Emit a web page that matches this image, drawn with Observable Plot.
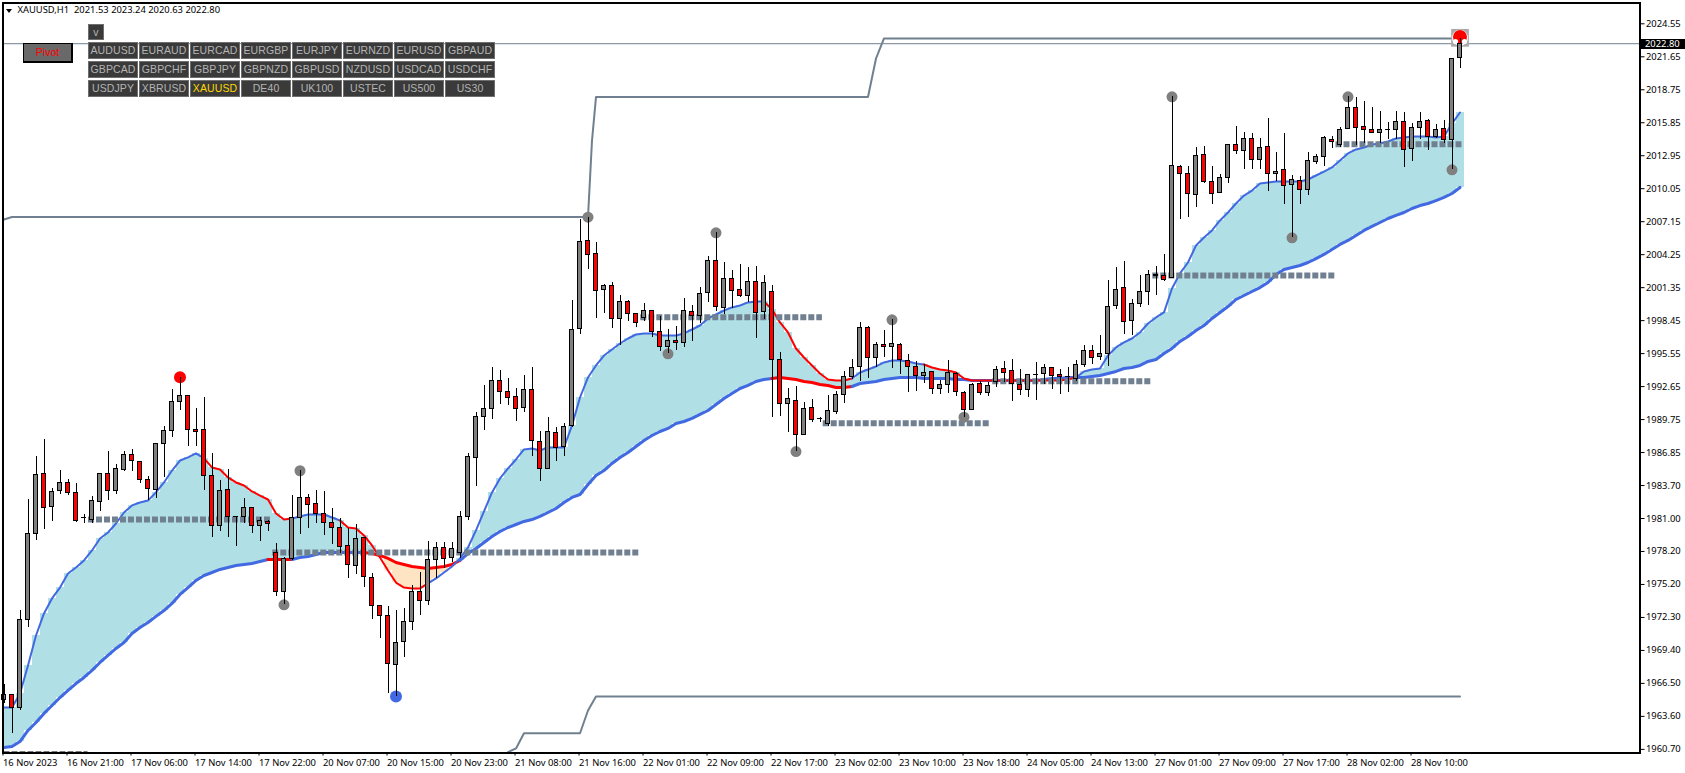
<!DOCTYPE html>
<html><head><meta charset="utf-8">
<script src="https://cdn.jsdelivr.net/npm/d3@7"></script>
<script src="https://cdn.jsdelivr.net/npm/@observablehq/plot@0.6"></script>
<style>
html,body{margin:0;padding:0;background:#fff;overflow:hidden}
#wrap{position:relative;width:1685px;height:773px}
#wrap svg{display:block;max-width:none}
.hdr{position:absolute;left:17.5px;top:3px;font:9.4px "Noto Sans",sans-serif;color:#000;white-space:pre;line-height:14px}
.tri{position:absolute;left:6px;top:9px;width:0;height:0;border-left:3.5px solid transparent;border-right:3.5px solid transparent;border-top:4px solid #000}
.btn{position:absolute;box-sizing:border-box;width:50px;height:17px;background:#3a3a3a;border:1px solid #6e6e6e;color:#b4b4b4;font:10.5px "Liberation Sans",sans-serif;text-align:center;line-height:15px;letter-spacing:.1px}
.pivot{position:absolute;box-sizing:border-box;left:23px;top:43px;width:50px;height:20px;background:#696969;border:1px solid #000;border-bottom-width:2px;border-right-width:2px;color:#ff0000;font:10.5px "Liberation Sans",sans-serif;text-align:center;line-height:17px}
.last{position:absolute;left:1641px;top:39px;width:44px;height:10px;background:#000;color:#fff;font:9.4px/10px "Noto Sans",sans-serif;text-align:left;padding-left:4px;box-sizing:border-box}
</style></head><body><div id="wrap"></div>
<script>
const opens=[1965.11,1965.55,1964.37,1972.14,1979.71,1984.98,1982.08,1983.49,1984.19,1983.31,
1981.09,1980.94,1982.52,1984.98,1983.49,1985.33,1986.65,1986.04,1984.46,1983.58,
1987.62,1988.76,1991.31,1991.84,1988.85,1988.85,1984.81,1980.41,1983.58,1981.17,
1981.20,1981.99,1980.41,1980.76,1978.04,1974.61,1977.51,1981.11,1982.87,1982.34,
1981.47,1980.67,1980.23,1978.65,1976.89,1979.35,1975.84,1973.38,1972.50,1968.19,
1970.21,1971.97,1974.61,1973.82,1977.42,1978.50,1977.62,1978.06,1981.17,1986.35,
1989.96,1990.66,1993.16,1992.19,1991.75,1990.79,1992.37,1987.80,1985.42,1988.59,
1987.36,1989.20,1997.73,2005.47,2004.33,2001.16,2001.51,1998.61,2000.11,1999.05,
1998.70,1999.32,1997.47,1996.15,1996.68,1996.50,1999.23,1998.88,2000.90,2003.71,
1999.58,2002.13,2001.16,2000.63,2001.87,1999.23,2000.99,1995.01,1991.14,1991.40,
1988.41,1990.79,1989.78,1989.38,1990.43,1991.93,1993.51,1994.36,1997.82,1995.18,
1996.33,1996.15,1996.33,1994.92,1994.39,1993.56,1993.95,1992.46,1992.81,1993.78,
1992.11,1990.61,1992.90,1992.11,1993.07,1994.22,1994.04,1992.81,1992.37,1993.69,
1993.78,1994.30,1993.69,1993.51,1993.34,1994.57,1995.80,1995.27,1995.53,1999.76,
2001.34,1998.44,1999.93,2000.99,2002.42,2002.36,2002.22,2011.98,2011.36,2009.52,
2013.03,2010.66,2009.69,2011.01,2013.91,2013.38,2014.44,2012.59,2013.74,2011.36,
2011.71,2010.39,2010.75,2009.95,2012.42,2012.86,2014.35,2013.91,2015.32,2017.17,
2015.49,2015.23,2014.97,2015.23,2015.23,2015.93,2013.56,2015.41,2016.02,2014.62,
2015.32,2014.35,2021.53];
const closes=[1965.55,1964.37,1972.14,1979.71,1984.89,1981.96,1983.40,1984.19,1983.31,1980.81,
1981.11,1982.61,1984.98,1983.49,1985.42,1986.65,1986.13,1984.46,1983.66,1987.62,
1988.76,1991.31,1991.84,1988.85,1988.68,1984.81,1980.41,1983.49,1981.20,1981.14,
1981.99,1980.41,1980.85,1980.59,1974.61,1977.51,1981.11,1982.87,1982.26,1981.47,
1980.67,1980.23,1978.56,1976.98,1979.27,1975.93,1973.38,1972.50,1968.28,1970.12,
1971.97,1974.61,1973.82,1977.42,1978.48,1977.53,1978.33,1981.20,1986.50,1989.96,
1990.70,1993.16,1992.19,1991.67,1990.70,1992.37,1987.88,1985.42,1988.68,1987.27,
1989.12,1997.64,2005.38,2004.24,2001.07,2001.51,1998.61,2000.11,1999.05,1998.26,
1999.32,1997.47,1996.15,1996.68,1996.50,1999.32,1998.88,2000.81,2003.71,1999.67,
2002.13,2001.07,2000.63,2001.87,1999.14,2001.78,1995.01,1991.14,1991.58,1988.41,
1990.70,1989.73,1989.76,1990.52,1991.93,1993.51,1994.30,1997.82,1995.18,1996.33,
1996.15,1996.41,1995.01,1994.39,1993.56,1993.86,1992.46,1992.81,1993.86,1992.19,
1990.61,1992.81,1992.11,1992.72,1994.13,1993.86,1992.90,1992.37,1993.69,1993.65,
1994.30,1993.60,1993.51,1993.45,1994.57,1995.80,1995.18,1995.53,1999.67,2001.16,
1998.35,1999.93,2000.99,2002.48,2002.36,2002.04,2012.06,2011.36,2009.60,2012.94,
2010.66,2009.60,2011.01,2013.91,2013.38,2014.44,2012.59,2013.65,2011.36,2011.54,
2010.31,2010.83,2009.95,2012.50,2012.86,2014.53,2014.18,2015.23,2017.17,2015.41,
2015.23,2014.97,2015.23,2015.20,2015.93,2013.47,2015.41,2015.93,2014.62,2015.23,
2014.35,2021.47,2022.80];
const highs=[1966.46,1965.58,1972.96,1982.70,1986.50,1987.97,1983.66,1985.27,1984.46,1984.10,
1981.38,1982.99,1985.01,1986.94,1985.77,1986.94,1987.12,1986.04,1984.72,1987.62,
1989.12,1992.40,1993.48,1991.84,1990.72,1991.67,1986.74,1984.39,1985.36,1981.17,
1982.78,1981.99,1981.11,1980.85,1978.85,1977.65,1983.05,1985.25,1983.14,1983.49,
1983.40,1981.91,1981.03,1980.15,1980.50,1979.41,1976.19,1973.38,1973.29,1972.94,
1973.11,1975.13,1976.28,1979.00,1978.92,1978.94,1978.94,1981.67,1986.74,1990.35,
1992.75,1994.30,1994.04,1993.34,1992.46,1993.60,1994.30,1988.68,1989.91,1989.03,
1989.38,2000.19,2007.34,2007.55,2005.29,2001.60,2001.78,2000.63,2000.19,1999.05,
1999.93,1999.32,1998.79,1997.64,1997.93,2000.37,1999.75,2001.34,2004.06,2006.17,
2003.54,2002.83,2003.36,2003.10,2003.21,2002.39,2001.51,1995.62,1992.46,1992.63,
1991.23,1991.49,1989.96,1991.84,1992.19,1993.95,1995.03,1998.26,1997.93,1996.53,
1997.58,1998.52,1996.41,1995.47,1994.83,1994.57,1993.95,1993.19,1994.95,1993.86,
1992.19,1992.90,1993.07,1992.98,1994.39,1994.83,1995.01,1994.13,1993.69,1994.74,
1994.57,1994.30,1994.13,1994.30,1994.92,1996.24,1996.24,1997.12,2001.95,2003.10,
2003.62,2000.28,2002.39,2002.83,2003.18,2004.24,2018.13,2012.06,2011.98,2013.65,
2013.74,2011.98,2011.27,2013.91,2015.49,2014.97,2014.88,2014.44,2016.20,2013.21,
2014.88,2011.19,2011.10,2013.21,2013.03,2014.62,2014.62,2015.41,2018.13,2018.04,
2017.69,2017.17,2016.81,2015.85,2016.81,2016.73,2015.76,2016.73,2016.11,2015.67,
2016.05,2021.47,2023.24];
const lows=[1964.81,1962.12,1964.17,1971.49,1979.12,1980.08,1980.79,1983.16,1983.05,1980.73,
1980.64,1980.59,1981.67,1982.63,1983.16,1985.19,1985.19,1984.16,1982.61,1982.81,
1984.63,1988.17,1990.55,1987.38,1987.38,1983.51,1979.41,1979.94,1979.41,1978.59,
1980.59,1979.76,1979.06,1979.94,1974.22,1973.46,1977.36,1979.65,1980.20,1980.59,
1979.58,1978.79,1977.95,1975.80,1976.15,1975.01,1972.20,1970.53,1965.64,1965.40,
1968.86,1971.20,1972.55,1973.43,1975.75,1976.66,1977.18,1977.54,1980.88,1983.89,
1988.79,1989.78,1991.10,1991.01,1989.61,1990.40,1986.53,1984.33,1985.33,1986.09,
1986.53,1989.05,1997.26,2002.97,1998.66,1999.10,1997.79,1996.24,1998.40,1997.87,
1998.35,1996.94,1995.76,1995.53,1995.82,1996.11,1996.64,1998.17,2000.07,1999.28,
1999.02,1999.49,2000.46,2000.02,1996.85,1998.52,1989.96,1990.05,1988.64,1986.94,
1988.38,1989.52,1989.52,1989.12,1990.20,1991.19,1993.25,1993.13,1993.39,1994.36,
1995.24,1994.27,1993.74,1992.16,1992.25,1992.95,1991.98,1991.96,1992.07,1991.81,
1989.96,1990.58,1991.89,1991.81,1992.60,1992.98,1991.37,1991.89,1991.72,1991.45,
1992.86,1992.42,1991.98,1992.16,1993.10,1994.36,1994.57,1994.92,1994.39,1999.46,
1997.26,1997.12,1999.58,1999.81,2000.63,2001.87,2002.13,2007.37,2007.55,2008.42,
2010.54,2008.69,2009.60,2010.48,2013.03,2011.71,2011.71,2011.71,2009.78,2010.66,
2008.69,2005.73,2008.69,2009.48,2012.15,2011.98,2013.56,2013.65,2015.32,2013.82,
2014.00,2014.88,2014.00,2014.35,2014.35,2011.94,2012.47,2014.35,2013.44,2014.44,
2014.00,2011.71,2020.63];
const fastMA=[1964.43,1964.43,1965.66,1968.13,1970.76,1972.70,1974.02,1974.98,1976.22,1976.74,
1977.36,1978.24,1979.29,1979.82,1980.61,1981.58,1982.20,1982.46,1982.63,1983.34,
1984.22,1985.27,1986.15,1986.42,1986.77,1986.33,1985.54,1985.36,1984.66,1984.22,
1983.95,1983.43,1983.07,1982.72,1981.49,1980.96,1981.05,1981.23,1981.40,1981.40,
1981.40,1981.14,1980.88,1980.26,1980.17,1979.56,1978.68,1977.62,1976.48,1975.42,
1974.98,1974.90,1974.90,1975.34,1975.78,1976.30,1976.83,1977.54,1978.50,1980.00,
1981.67,1983.34,1984.57,1985.45,1986.24,1987.12,1987.21,1987.03,1987.30,1987.30,
1987.30,1989.23,1991.69,1993.45,1994.51,1995.38,1995.91,1996.44,1996.88,1997.23,
1997.32,1997.32,1997.14,1997.14,1997.14,1997.32,1997.67,1998.02,1998.64,1998.99,
1999.34,1999.61,1999.78,2000.05,2000.13,2000.13,1999.43,1998.29,1997.41,1996.00,
1995.21,1994.51,1993.80,1993.27,1993.19,1993.19,1993.36,1993.89,1994.15,1994.42,
1994.77,1994.95,1994.95,1994.86,1994.68,1994.59,1994.33,1994.15,1994.07,1993.89,
1993.36,1993.19,1993.19,1993.19,1993.19,1993.19,1993.19,1993.19,1993.19,1993.19,
1993.19,1993.19,1993.19,1993.27,1993.45,1993.98,1994.15,1994.24,1995.38,1996.09,
1996.53,1996.88,1997.41,1998.20,1998.73,1999.17,2001.28,2002.60,2003.56,2005.06,
2005.76,2006.38,2007.26,2007.96,2008.75,2009.45,2009.89,2010.51,2010.60,2010.68,
2010.68,2010.68,2010.68,2010.86,2011.21,2011.56,2011.92,2012.53,2013.15,2013.50,
2013.67,2013.94,2014.03,2014.20,2014.47,2014.55,2014.64,2014.64,2014.64,2014.55,
2014.64,2015.78,2016.75];
const slowMA=[1960.92,1961.00,1961.44,1962.41,1963.11,1963.91,1964.61,1965.31,1965.93,1966.54,
1967.07,1967.69,1968.39,1969.01,1969.62,1970.15,1970.94,1971.47,1971.91,1972.44,
1972.96,1973.58,1974.37,1974.98,1975.60,1976.04,1976.30,1976.57,1976.74,1976.92,
1977.01,1977.10,1977.27,1977.45,1977.45,1977.45,1977.45,1977.62,1977.71,1977.89,
1978.06,1978.06,1978.06,1978.06,1978.06,1978.06,1977.97,1977.80,1977.54,1977.18,
1977.01,1976.83,1976.74,1976.66,1976.74,1976.83,1977.01,1977.36,1977.97,1978.41,
1978.94,1979.47,1979.91,1980.26,1980.52,1980.79,1980.96,1981.23,1981.58,1981.93,
1982.46,1982.90,1983.16,1984.04,1984.83,1985.27,1985.89,1986.42,1986.86,1987.38,
1987.91,1988.35,1988.70,1988.97,1989.41,1989.58,1989.85,1990.20,1990.55,1991.08,
1991.60,1992.04,1992.48,1992.75,1993.10,1993.27,1993.36,1993.45,1993.36,1993.27,
1993.10,1993.01,1992.83,1992.75,1992.57,1992.57,1992.66,1992.92,1993.01,1993.10,
1993.27,1993.36,1993.45,1993.45,1993.45,1993.36,1993.36,1993.36,1993.36,1993.27,
1993.27,1993.19,1993.19,1993.19,1993.19,1993.19,1993.19,1993.19,1993.19,1993.19,
1993.27,1993.36,1993.36,1993.45,1993.45,1993.45,1993.54,1993.63,1993.80,1993.98,
1994.24,1994.33,1994.51,1994.86,1995.03,1995.56,1996.00,1996.62,1997.06,1997.58,
1998.02,1998.64,1999.17,1999.69,2000.31,2000.66,2001.01,2001.36,2001.80,2002.51,
2002.95,2003.12,2003.30,2003.56,2003.91,2004.27,2004.71,2005.15,2005.50,2005.94,
2006.38,2006.73,2007.08,2007.43,2007.70,2007.96,2008.31,2008.57,2008.75,2009.01,
2009.28,2009.63,2010.16];
const fastRedRanges=[[25,35],[42,52],[95,105],[115,133]];
const slowRedRanges=[[33,35],[45,56],[96,105]];
// channel lines (bar index, price)
const upperIdx=[0,1,73,73.5,74,108,109,110,181];
const upperPrice=[2007.34,2007.56,2007.56,2014.29,2018.11,2018.11,2021.50,2023.26,2023.26];
const lowerIdx=[63,64,65,72,73,74,182];
const lowerPrice=[1960.50,1960.83,1962.17,1962.17,1964.17,1965.40,1965.40];
// pivot levels
const levelStart=[10.56,33.6,79.6,102.4,123.6,143.6,166.5,0];
const levelEnd=[33.3,79.4,102.3,123.4,143.4,166.4,182.4,10.5];
const levelPrice=[1980.96,1978.06,1998.75,1989.43,1993.13,2002.42,2013.96,1960.52];
// pivot markers
const pivotIdx=[37,35,73,89,83,99,111,120,146,168,161,181];
const pivotPrice=[1985.25,1973.46,2007.55,2006.17,1995.53,1986.94,1998.52,1989.96,2018.13,2018.13,2005.73,2011.71];
const timeTicks=[0,8,16,24,32,40,48,56,64,72,80,88,96,104,112,120,128,136,144,152,160,168,176];
const timeLabels=["16 Nov 2023","16 Nov 21:00","17 Nov 06:00","17 Nov 14:00","17 Nov 22:00","20 Nov 07:00","20 Nov 15:00","20 Nov 23:00","21 Nov 08:00","21 Nov 16:00","22 Nov 01:00","22 Nov 09:00","22 Nov 17:00","23 Nov 02:00","23 Nov 10:00","23 Nov 18:00","24 Nov 05:00","24 Nov 13:00","27 Nov 01:00","27 Nov 09:00","27 Nov 17:00","28 Nov 02:00","28 Nov 10:00"];
const priceTicks=[2024.55,2021.65,2018.75,2015.85,2012.95,2010.05,2007.15,2004.25,2001.35,1998.45,1995.55,1992.65,1989.75,1986.85,1983.95,1981.05,1978.15,1975.25,1972.35,1969.45,1966.55,1963.65,1960.75];
const priceLabels=["2024.55","2021.65","2018.75","2015.85","2012.95","2010.05","2007.15","2004.25","2001.35","1998.45","1995.55","1992.65","1989.75","1986.85","1983.70","1981.00","1978.20","1975.20","1972.30","1969.40","1966.50","1963.60","1960.70"];
const symbols=["AUDUSD","EURAUD","EURCAD","EURGBP","EURJPY","EURNZD","EURUSD","GBPAUD","GBPCAD","GBPCHF","GBPJPY","GBPNZD","GBPUSD","NZDUSD","USDCAD","USDCHF","USDJPY","XBRUSD","XAUUSD","DE40","UK100","USTEC","US500","US30"];

const BLUE="#4169e1",RED="#ff0000",SKY="#b0e0e6",PEACH="#ffe4c4",SLATE="#708090";
const inR=(i,rs)=>rs.some(([a,b])=>i>=a&&i<=b);
const bars=opens.map((o,i)=>({i,o,c:closes[i],h:highs[i],l:lows[i],f:fastMA[i],s:slowMA[i]}));
const upper=upperIdx.map((i,k)=>({i,p:upperPrice[k]}));
const lower=lowerIdx.map((i,k)=>({i,p:lowerPrice[k]}));
const levels=levelPrice.map((p,k)=>({a:levelStart[k],b:levelEnd[k],p,last:k===7}));
const pivots=pivotIdx.map((i,k)=>({i,p:pivotPrice[k]}));
const xL=new Map(timeTicks.map((t,k)=>[t,timeLabels[k]]));
const yL=new Map(priceTicks.map((t,k)=>[t,priceLabels[k]]));

const chart=Plot.plot({
  width:1685,height:773,marginLeft:2.5,marginRight:45.5,marginTop:2.5,marginBottom:20.5,
  style:{fontFamily:'"Noto Sans",sans-serif',fontSize:"9.4px",background:"#fff",color:"#000"},
  x:{type:"linear",domain:[-0.125,204.5]},
  y:{type:"linear",domain:[1960.43,2026.38]},
  color:{type:"identity"},
  marks:[
    Plot.rect(bars,{x1:d=>d.i-0.5,x2:d=>d.i+0.5,y1:"s",y2:"f",fill:d=>d.f>=d.s?SKY:PEACH,shapeRendering:"crispEdges",clip:true}),
    Plot.line(bars,{x:"i",y:"s",z:null,stroke:d=>inR(d.i,slowRedRanges)?RED:BLUE,strokeWidth:3,curve:"linear"}),
    Plot.line(bars,{x:"i",y:"f",z:null,stroke:d=>inR(d.i,fastRedRanges)?RED:BLUE,strokeWidth:2,curve:"linear"}),
    Plot.ruleY(levels.filter(d=>!d.last),{x1:"a",x2:"b",y:"p",stroke:SLATE,strokeWidth:6,strokeDasharray:"6,2"}),
    Plot.ruleY(levels.filter(d=>d.last),{x1:"a",x2:"b",y:"p",stroke:"#777",strokeWidth:2,strokeDasharray:"6,2"}),
    Plot.line(upper,{x:"i",y:"p",stroke:SLATE,strokeWidth:2}),
    Plot.line(lower,{x:"i",y:"p",stroke:SLATE,strokeWidth:2}),
    Plot.ruleY([closes[182]],{stroke:SLATE,strokeWidth:1}),
    Plot.dot(pivots,{x:"i",y:"p",r:5.5,fill:"#808080"}),
    Plot.dot([bars[22]],{x:"i",y:"h",r:6,fill:RED}),
    Plot.dot([bars[49]],{x:"i",y:"l",r:6,fill:BLUE}),
    Plot.dot([bars[182]],{x:"i",y:d=>d.h+0.08,symbol:"square",r:10,fill:"#a9a9a9"}),
    Plot.dot([bars[182]],{x:"i",y:d=>d.h+0.08,r:8,fill:"#fff"}),
    Plot.dot([bars[182]],{x:"i",y:d=>d.h+0.15,r:7,fill:RED}),
    Plot.dot([bars[182]],{x:"i",y:d=>d.h+0.15,r:2.6,dx:-4.5,dy:4.5,fill:"#fff"}),
    Plot.dot([bars[182]],{x:"i",y:d=>d.h+0.15,r:2.6,dx:4.5,dy:4.5,fill:"#fff"}),
    Plot.ruleX(bars,{x:"i",y1:"l",y2:"h",stroke:"#000",strokeWidth:1,shapeRendering:"crispEdges"}),
    Plot.rect(bars,{x1:d=>d.i-0.25,x2:d=>d.i+0.25,y1:"o",y2:"c",fill:d=>d.c<d.o?RED:"#808080",stroke:"#000",strokeWidth:1,shapeRendering:"crispEdges"}),
    Plot.axisX({ticks:timeTicks,tickFormat:d=>xL.get(d),tickSize:3,tickPadding:3,textAnchor:"start",dx:-1,label:null,fontSize:9.4,stroke:"#000"}),
    Plot.axisY({anchor:"right",ticks:priceTicks,tickFormat:d=>yL.get(d),tickSize:4,tickPadding:2,label:null,fontSize:9.4,stroke:"#000"}),
    Plot.frame({stroke:"#000",strokeWidth:2})
  ]
});
const wrap=document.getElementById("wrap");
wrap.appendChild(chart);
const add=(cls,txt,css)=>{const e=document.createElement("div");e.className=cls;e.textContent=txt;if(css)Object.assign(e.style,css);wrap.appendChild(e);return e;};
add("tri","");
add("hdr",`XAUUSD,H1  ${opens[182].toFixed(2)} ${highs[182].toFixed(2)} ${lows[182].toFixed(2)} ${closes[182].toFixed(2)}`);
add("pivot","Pivot");
add("btn","v",{left:"88px",top:"24px",width:"16px",height:"16px"});
symbols.forEach((s,k)=>{
  const e=add("btn",s,{left:(88+51*(k%8))+"px",top:(42+19*Math.floor(k/8))+"px"});
  if(s==="XAUUSD")e.style.color="#ffd700";
});
add("last",closes[182].toFixed(2));
</script></body></html>
